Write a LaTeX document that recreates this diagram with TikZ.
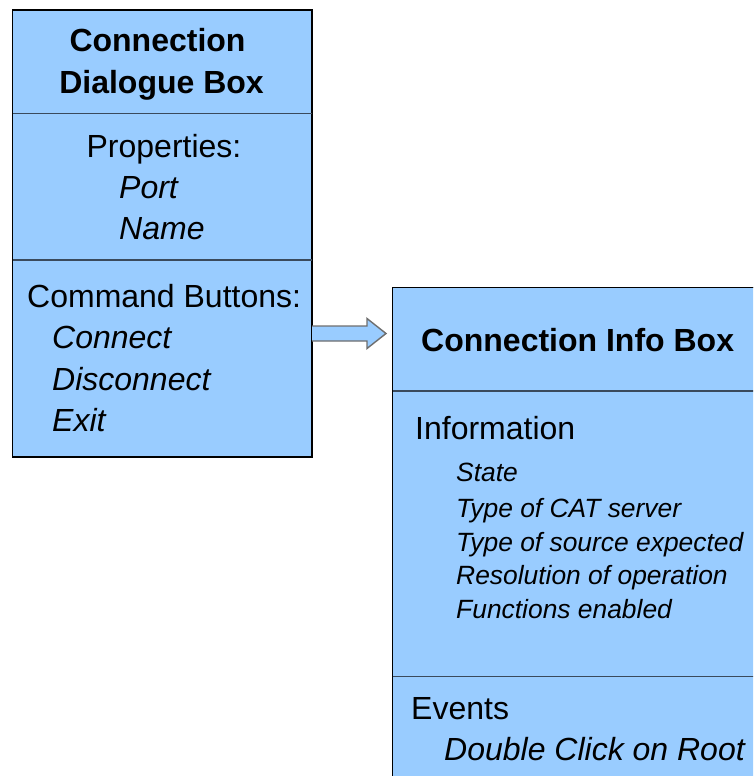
\documentclass[tikz,border=0pt]{standalone}
\usepackage{fontspec}
\setmainfont{Liberation Sans}
\definecolor{boxfill}{HTML}{99CCFF}
\definecolor{divider}{HTML}{3A4A5C}
\definecolor{arrowline}{HTML}{6E6E6E}
\begin{document}
\begin{tikzpicture}[x=1pt,y=1pt,
  panel/.style={draw=black, fill=boxfill, line width=1pt, inner sep=0pt, anchor=north west},
  sepline/.style={draw=divider, line width=1.6pt},
  big/.style={inner sep=0pt, font=\fontsize{32}{38}\selectfont},
  bigleft/.style={big, anchor=base west},
  bigit/.style={bigleft, font=\fontsize{32}{38}\selectfont\itshape},
  title/.style={big, anchor=base, font=\fontsize{32}{38}\selectfont\bfseries},
  smallit/.style={anchor=base west, inner sep=0pt, font=\fontsize{26.4}{32}\selectfont\itshape},
  blockarrow/.style={fill=boxfill, draw=arrowline, line width=1.4pt, line join=miter}]
\useasboundingbox (0,0) rectangle (753,-776);
\clip (0,0) rectangle (753,-776);
% left box
\node[panel, minimum width=299pt, minimum height=446pt] (dlg) at (12,-10) {};
\draw[sepline] (dlg.west |- 0,-113.5) -- (dlg.east |- 0,-113.5);
\draw[sepline] (dlg.west |- 0,-260) -- (dlg.east |- 0,-260);
\draw[black, line width=1pt] (dlg.north west) rectangle (dlg.south east);
\node[title] (t1) at (157.5,-52) {Connection};
\node[title] (t2) at (161.5,-93) {Dialogue Box};
\node[big, anchor=base] (props) at (164,-157) {Properties:};
\node[bigit] (port) at (119,-198) {Port};
\node[bigit] (name) at (119,-239.5) {Name};
\node[bigleft] (cmd) at (27,-307) {Command Buttons:};
\node[bigit] (conn) at (52,-348.5) {Connect};
\node[bigit] (disc) at (52,-390) {Disconnect};
\node[bigit] (exit) at (52,-431) {Exit};
% right box
\node[panel, minimum width=420pt, minimum height=540pt] (info) at (392,-287) {};
\draw[sepline] (info.west |- 0,-391) -- (info.east |- 0,-391);
\draw[sepline] (info.west |- 0,-676.5) -- (info.east |- 0,-676.5);
\draw[black, line width=1pt] (info.north west) rectangle (info.south east);
\node[title, anchor=base west] (t3) at (421,-351) {Connection Info Box};
\node[bigleft] (infohead) at (415,-439) {Information};
\node[smallit] (i1) at (456,-481) {State};
\node[smallit] (i2) at (456,-517) {Type of CAT server};
\node[smallit] (i3) at (456,-551) {Type of source expected};
\node[smallit] (i4) at (456,-584.5) {Resolution of operation};
\node[smallit] (i5) at (456,-618.5) {Functions enabled};
\node[bigleft] (ev) at (411,-719) {Events};
\node[bigit] (dbl) at (444,-760) {Double Click on Root};
% block arrow
\coordinate (tip) at (386,-333.5);
\draw[blockarrow] (dlg.east |- 0,-326) -- (367,-326) -- (367,-318.5) -- (tip) -- (367,-348.5) -- (367,-341) -- (dlg.east |- 0,-341);
\end{tikzpicture}
\end{document}
